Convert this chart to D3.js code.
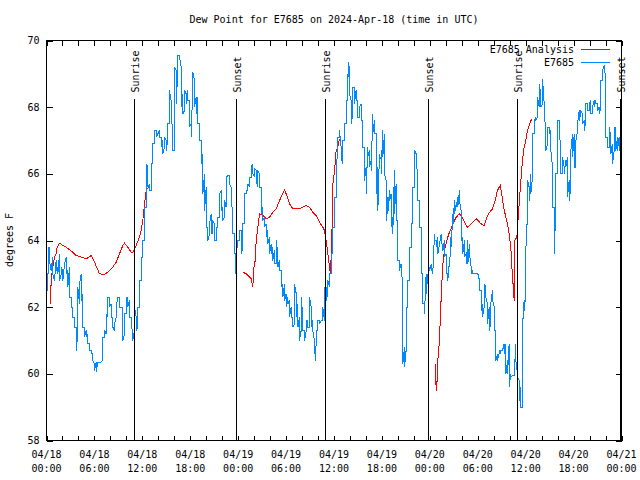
<!DOCTYPE html>
<html><head><meta charset="utf-8">
<script src="https://cdn.jsdelivr.net/npm/d3@7"></script>
<style>body{margin:0;background:#fff}svg{display:block}</style>
</head><body><svg id="c" width="640" height="480"></svg>
<script>
// ---- data ----
const title = "Dew Point for E7685 on 2024-Apr-18 (time in UTC)";
const yLabel = "degrees F";
const seriesNames = ["E7685 Analysis", "E7685"];
const yTicks = [58, 60, 62, 64, 66, 68, 70];
const eventHours = [10.94, 23.75, 34.85, 47.75, 58.9, 71.83];
const eventLabels = ["Sunrise", "Sunset", "Sunrise", "Sunset", "Sunrise", "Sunset"];

// observed series: at each hour the line passes through first then second value
const blueHours = [0.08,0.25,0.38,0.58,0.79,1.00,1.21,1.42,1.63,1.84,2.05,2.25,2.46,2.67,2.88,3.09,3.30,3.51,3.71,3.92,4.13,4.34,4.55,4.76,4.97,5.18,5.38,5.59,5.80,6.01,6.22,6.43,6.64,6.84,7.05,7.26,7.47,7.68,7.89,8.10,8.31,8.51,8.72,8.93,9.14,9.35,9.56,9.77,9.97,10.18,10.39,10.60,10.81,11.02,11.23,11.44,11.64,11.85,12.06,12.27,12.48,12.69,12.90,13.11,13.31,13.52,13.73,13.94,14.15,14.36,14.57,14.77,14.98,15.19,15.40,15.61,15.82,16.03,16.24,16.44,16.65,16.86,17.07,17.28,17.49,17.70,17.90,18.11,
18.33,18.54,18.74,18.95,19.16,19.37,19.58,19.79,20.00,20.21,20.41,20.62,20.83,21.04,21.25,21.46,21.67,21.87,22.08,22.29,22.50,22.71,22.92,23.13,23.34,23.54,23.67,23.75,23.96,24.17,24.38,24.59,24.80,25.01,25.21,25.42,25.63,25.84,26.05,26.26,26.47,26.67,26.88,27.09,27.30,27.51,27.72,27.93,28.14,28.34,28.55,28.76,28.97,29.18,29.39,29.60,29.81,30.01,30.22,30.43,30.64,30.85,31.06,31.27,31.48,31.68,31.89,32.10,32.31,32.52,32.73,32.94,33.15,33.35,33.56,33.69,33.77,33.98,34.19,34.39,34.60,34.81,35.02,35.23,35.44,35.65,35.86,36.07,36.27,
36.48,36.69,36.89,37.10,37.31,37.52,37.73,37.85,37.94,38.15,38.36,38.56,38.77,38.98,39.19,39.40,39.61,39.82,40.02,40.23,40.44,40.65,40.86,41.07,41.28,41.49,41.69,41.90,42.11,42.32,42.53,42.74,42.95,43.16,43.36,43.57,43.78,43.99,44.20,44.41,44.62,44.83,45.03,45.24,45.45,45.66,45.87,46.08,46.29,46.50,46.70,46.91,47.12,47.33,47.54,47.75,47.96,48.17,48.37,48.58,48.79,49.00,49.21,49.42,49.63,49.83,50.04,50.25,50.46,50.67,50.88,51.09,51.30,51.50,51.71,51.92,52.13,52.34,52.55,52.76,52.96,53.17,53.38,53.59,53.80,54.01,54.22,54.42,
54.60,54.80,55.01,55.22,55.43,55.64,55.85,56.06,56.27,56.47,56.68,56.89,57.10,57.31,57.52,57.73,57.93,58.14,58.35,58.56,58.77,58.98,59.19,59.40,59.60,59.81,60.02,60.23,60.44,60.65,60.86,61.07,61.27,61.48,61.69,61.90,62.11,62.32,62.53,62.73,62.94,63.15,63.36,63.57,63.78,63.99,64.20,64.41,64.62,64.83,65.03,65.24,65.45,65.66,65.87,66.08,66.29,66.50,66.70,66.91,67.12,67.33,67.54,67.75,67.96,68.16,68.37,68.58,68.79,69.00,69.21,69.41,69.62,69.83,69.95,70.04,70.25,70.46,70.66,70.87,71.08,71.29,71.50,71.71,71.91];
const blueFirst = [62.5,63.0,63.8,63.1,63.5,62.8,63.4,63.2,63.6,63.0,63.1,63.3,63.5,63.1,63.2,62.3,62.0,61.7,61.4,61.2,62.1,63.0,62.4,61.4,61.3,61.2,60.9,60.7,60.6,60.3,60.35,60.35,60.35,60.35,60.4,61.1,61.2,61.7,62.3,62.1,61.7,61.3,61.7,62.3,62.3,62.0,62.0,61.2,61.8,62.3,62.2,61.7,61.3,61.3,61.7,61.4,62.0,62.8,63.5,64.0,65.0,66.2,65.7,65.5,66.3,66.9,67.3,67.2,67.3,67.1,67.0,66.8,67.0,67.0,67.5,68.2,67.4,66.7,69.1,69.1,69.55,69.2,68.4,67.9,68.4,68.5,68.2,67.5,
68.7,68.8,68.3,68.3,67.5,67.0,66.6,66.0,65.6,64.4,64.2,64.8,64.2,64.5,64.0,64.4,64.7,65.5,65.0,64.7,65.0,65.95,65.95,65.6,64.8,64.2,63.6,63.4,63.8,64.0,64.3,63.8,64.5,65.4,65.5,65.6,65.9,66.3,65.9,66.1,65.6,66.0,65.6,65.0,64.7,64.5,64.3,64.1,63.9,63.8,63.7,63.3,63.6,63.4,63.1,62.7,62.7,62.4,62.3,62.2,62.0,61.7,61.5,62.4,62.1,61.7,61.3,61.7,61.3,61.3,61.6,61.4,62.0,61.6,61.0,60.6,61.0,61.3,61.6,61.6,61.6,61.6,62.6,62.4,62.6,63.0,63.6,64.4,65.3,
66.7,67.1,66.8,66.3,67.0,67.5,68.2,68.9,69.0,68.2,67.8,68.6,68.5,68.2,67.7,68.1,67.6,66.8,66.2,66.8,66.7,66.4,67.8,67.6,67.2,66.2,66.6,66.5,67.3,67.2,65.8,65.3,65.5,65.4,64.7,66.1,65.7,64.6,63.4,63.3,62.8,60.8,60.7,62.0,62.8,63.8,64.5,65.6,66.6,66.0,65.2,64.4,63.0,62.1,63.0,63.0,63.2,63.3,63.0,64.2,64.0,64.1,63.9,64.2,63.8,64.0,63.6,63.0,63.4,64.2,64.8,65.2,65.1,65.3,65.5,64.9,64.1,64.0,63.6,64.0,63.9,63.2,63.1,63.0,63.0,63.0,62.8,62.5,
62.1,62.0,62.6,62.1,62.0,61.5,62.5,62.0,61.3,60.6,60.6,60.6,60.7,60.9,60.9,60.4,60.9,60.0,59.95,59.95,60.9,60.0,59.8,59.6,59.0,62.2,62.4,64.8,65.6,66.0,65.9,67.2,67.7,67.7,68.0,68.4,68.1,68.1,67.5,66.9,67.4,67.3,66.2,65.0,65.0,66.0,67.6,66.8,66.0,66.2,66.4,66.5,65.8,65.6,67.2,67.2,66.2,67.3,67.9,67.8,67.8,67.6,67.6,68.1,67.9,68.2,67.8,68.2,68.2,68.1,68.0,68.0,68.8,69.25,69.0,68.0,67.1,66.8,67.1,66.9,66.7,67.4,67.1,67.1,66.9];
const blueSecond = [63.0,63.8,63.4,63.1,63.0,62.8,63.1,63.0,62.8,63.2,62.8,63.3,63.0,62.6,62.3,62.0,61.7,61.4,60.7,62.6,62.7,62.2,61.4,61.1,61.1,60.9,60.7,60.6,60.4,60.1,60.05,60.35,60.35,60.35,61.1,61.3,61.8,62.3,62.0,61.7,61.4,61.5,62.0,62.3,62.0,62.0,61.0,61.8,62.3,62.0,61.7,61.4,61.0,62.0,61.3,62.0,62.8,63.5,64.0,65.0,66.3,65.6,65.5,66.3,66.9,67.3,67.1,67.2,67.1,66.8,66.6,67.1,66.7,67.5,68.5,67.6,66.7,69.2,68.1,69.55,69.5,68.0,67.8,68.5,68.1,68.2,67.4,67.1,
69.05,68.0,67.8,67.5,67.0,66.3,65.4,64.9,64.4,64.0,64.5,64.2,64.6,64.0,64.4,64.7,65.4,64.9,64.6,65.2,65.9,65.95,65.7,65.2,64.2,63.6,63.0,63.8,64.0,64.3,63.6,64.5,65.4,65.5,65.7,65.9,66.2,66.0,66.15,65.8,66.1,65.6,64.8,64.6,64.4,64.1,63.9,63.6,63.6,63.4,63.3,64.0,63.2,63.1,62.6,62.3,62.2,62.0,62.1,61.7,61.7,61.4,62.7,61.7,61.4,61.0,62.3,61.3,61.0,61.6,61.4,62.3,61.4,61.3,60.6,60.4,61.3,61.6,61.5,61.6,62.0,62.6,62.2,62.8,63.0,63.6,64.4,65.3,66.2,
67.1,67.3,66.5,67.0,67.5,68.2,69.0,69.35,68.4,67.5,68.6,68.1,68.2,67.7,68.0,67.6,66.8,65.8,65.4,66.5,66.2,66.1,67.2,67.2,65.4,64.9,66.4,66.0,66.5,66.0,64.6,64.8,65.2,64.4,64.2,64.8,64.6,63.4,63.1,63.0,60.3,60.2,62.0,62.8,63.8,64.5,65.6,66.7,66.3,65.2,64.4,63.0,62.1,61.8,62.4,62.8,63.1,63.2,63.0,64.0,63.8,63.6,63.9,64.0,63.7,63.5,63.0,62.8,63.2,63.8,64.4,64.8,65.0,65.0,65.2,64.0,63.6,63.5,63.3,63.3,63.6,63.0,63.0,63.0,63.0,63.0,62.5,61.9,
61.7,62.7,62.3,61.5,61.3,62.1,62.2,61.3,60.4,60.4,60.7,60.7,60.7,60.6,60.0,60.0,59.6,59.9,59.95,59.95,60.4,59.9,59.2,59.0,61.4,61.9,63.7,65.8,65.2,65.4,67.2,67.6,67.6,68.3,68.7,68.0,68.85,67.6,66.7,67.4,67.2,66.7,65.0,63.6,66.0,67.6,67.2,66.0,66.5,66.0,66.2,65.3,65.2,66.7,66.5,66.2,67.0,67.5,67.6,67.9,67.5,67.3,68.1,67.9,68.1,67.8,68.0,68.0,68.1,67.9,67.8,68.8,69.1,69.2,68.1,67.1,66.8,67.4,66.6,66.3,67.4,66.7,66.7,66.7,66.7];

// analysis series (null = gap)
const redHours = [0.50,0.55,0.67,0.79,1.00,1.21,1.34,1.63,2.05,2.46,3.30,3.71,4.34,4.97,5.59,6.01,6.64,7.26,7.68,8.30,8.72,9.14,9.56,9.77,10.18,10.60,10.81,11.23,11.64,11.85,12.06,12.27,12.48,12.90,13.0,
24.59,25.01,25.42,25.63,25.84,25.92,26.13,26.26,26.47,26.67,27.09,27.51,27.93,28.34,28.76,29.18,29.81,30.01,30.43,30.85,31.68,32.52,32.94,33.35,33.77,34.19,34.60,34.81,35.02,35.23,35.44,35.56,35.73,35.86,36.07,36.27,36.48,36.69,37.0,
48.71,48.79,48.91,49.00,49.21,49.33,49.50,49.67,49.83,50.04,50.25,50.46,50.67,50.88,51.09,51.30,51.50,51.71,51.92,52.13,52.34,52.55,52.76,53.17,53.59,53.80,54.01,54.42,54.80,55.01,55.22,55.64,55.85,56.06,56.27,56.47,56.68,56.81,56.97,57.23,57.52,57.73,57.93,58.14,58.27,58.39,58.56,58.64,58.89,58.98,59.06,59.19,59.40,59.60,59.81,60.02,60.23,60.44,60.65,60.77];
const redValues = [62.1,62.6,63.0,63.2,63.5,63.6,63.8,63.92,63.85,63.8,63.65,63.55,63.5,63.45,63.55,63.35,63.0,62.98,63.05,63.2,63.35,63.6,63.85,63.92,63.8,63.65,63.65,63.85,64.1,64.3,64.6,65.1,65.5,65.65,null,
63.05,63.0,62.9,62.85,62.6,63.1,63.4,64.0,64.4,64.8,64.75,64.65,64.7,64.85,64.95,65.2,65.52,65.4,65.1,64.95,64.95,65.05,65.0,64.85,64.75,64.55,64.4,64.3,64.0,63.6,63.2,63.0,64.1,65.7,66.1,66.7,66.8,67.05,null,
60.3,59.5,59.8,60.4,61.0,61.8,62.7,63.4,63.7,63.9,64.1,64.25,64.35,64.5,64.6,64.7,64.75,64.8,64.75,64.65,64.55,64.45,64.4,64.5,64.6,64.65,64.6,64.5,64.45,64.6,64.75,64.9,64.95,65.1,65.3,65.5,65.6,65.65,65.45,65.0,64.7,64.5,64.2,63.8,63.2,62.8,62.2,64.0,64.1,64.3,64.7,65.1,65.8,66.4,66.8,67.0,67.3,67.45,67.6,67.62];

// ---- drawing ----
const FONT = "'DejaVu Sans Mono', 'Liberation Mono', monospace";
const RED = "#ff0000", BLUE = "#0088ff";
const start = Date.UTC(2024, 3, 18);
const t = h => new Date(start + h * 3600e3);

const L = 46.5, R = 621.5, T = 40.5, B = 440.5;
const x = d3.scaleUtc().domain([t(0), t(72)]).range([L, R]);
const y = d3.scaleLinear().domain([58, 70]).range([B, T]);

const svg = d3.select("#c").style("font-family", FONT).style("font-size", "10px");
svg.append("rect").attr("width", 640).attr("height", 480).attr("fill", "#fff");

// ticks (inward, mirrored)
const hourTicks = d3.utcHour.every(2);
const gB = svg.append("g").attr("transform", `translate(0,${B})`)
  .call(d3.axisBottom(x).ticks(hourTicks).tickSize(-5).tickFormat(""));
const gT = svg.append("g").attr("transform", `translate(0,${T})`)
  .call(d3.axisTop(x).ticks(hourTicks).tickSize(-5).tickFormat(""));
const gL = svg.append("g").attr("transform", `translate(${L},0)`)
  .call(d3.axisLeft(y).tickValues(yTicks).tickSize(-6).tickFormat(""));
const gR = svg.append("g").attr("transform", `translate(${R},0)`)
  .call(d3.axisRight(y).tickValues(yTicks).tickSize(-6).tickFormat(""));
[gB, gT, gL, gR].forEach(g => {
  g.select(".domain").remove();
  g.selectAll("line").attr("stroke", "#000").attr("shape-rendering", "crispEdges");
});

// y labels
svg.append("g").selectAll("text").data(yTicks).join("text")
  .attr("x", L - 7).attr("y", d => y(d) + 3.5).attr("text-anchor", "end")
  .attr("fill", "#000").text(d => d);

// x labels (two lines)
const fmtD = d3.utcFormat("%m/%d"), fmtH = d3.utcFormat("%H:%M");
const xl = svg.append("g").selectAll("text").data(x.ticks(d3.utcHour.every(6))).join("text")
  .attr("text-anchor", "middle").attr("fill", "#000");
xl.append("tspan").attr("x", d => x(d)).attr("y", B + 17).text(fmtD);
xl.append("tspan").attr("x", d => x(d)).attr("y", B + 31).text(fmtH);

// title + y axis label
svg.append("text").attr("x", (L + R) / 2).attr("y", 23).attr("text-anchor", "middle")
  .attr("fill", "#000").text(title);
svg.append("text").attr("transform", "translate(13,240) rotate(-90)")
  .attr("text-anchor", "middle").attr("fill", "#000").text(yLabel);

// series
const redPts = redHours.map((h, i) => [h, redValues[i]]);
const bluePts = blueHours.flatMap((h, i) => [[h, blueFirst[i]], [h, blueSecond[i]]]);
const line = d3.line().defined(d => d[1] != null).x(d => x(t(d[0]))).y(d => y(d[1]));

svg.append("path").datum(redPts).attr("d", line).attr("fill", "none")
  .attr("stroke", RED).attr("stroke-width", 1).attr("shape-rendering", "crispEdges");
svg.append("path").datum(bluePts).attr("d", line).attr("fill", "none")
  .attr("stroke", BLUE).attr("stroke-width", 1).attr("shape-rendering", "crispEdges");

// sunrise / sunset markers
const ev = svg.append("g");
eventHours.forEach((h, i) => {
  const ex = Math.round(x(t(h))) + 0.5;
  ev.append("line").attr("x1", ex).attr("x2", ex).attr("y1", T + 58).attr("y2", B)
    .attr("stroke", "#000").attr("shape-rendering", "crispEdges");
  ev.append("text").attr("transform", `translate(${ex + 4},${T + 52}) rotate(-90)`)
    .attr("text-anchor", "start").attr("fill", "#000").text(eventLabels[i]);
});

// frame
svg.append("rect").attr("x", L).attr("y", T).attr("width", R - L).attr("height", B - T)
  .attr("fill", "none").attr("stroke", "#000").attr("shape-rendering", "crispEdges");

// legend
const lg = svg.append("g");
[[seriesNames[0], RED, 49.5], [seriesNames[1], BLUE, 62.5]].forEach(([name, col, ly]) => {
  lg.append("text").attr("x", 574).attr("y", ly + 3.5).attr("text-anchor", "end")
    .attr("fill", "#000").text(name);
  lg.append("line").attr("x1", 581).attr("x2", 610).attr("y1", ly).attr("y2", ly)
    .attr("stroke", col).attr("shape-rendering", "crispEdges");
});
</script>
</body></html>
